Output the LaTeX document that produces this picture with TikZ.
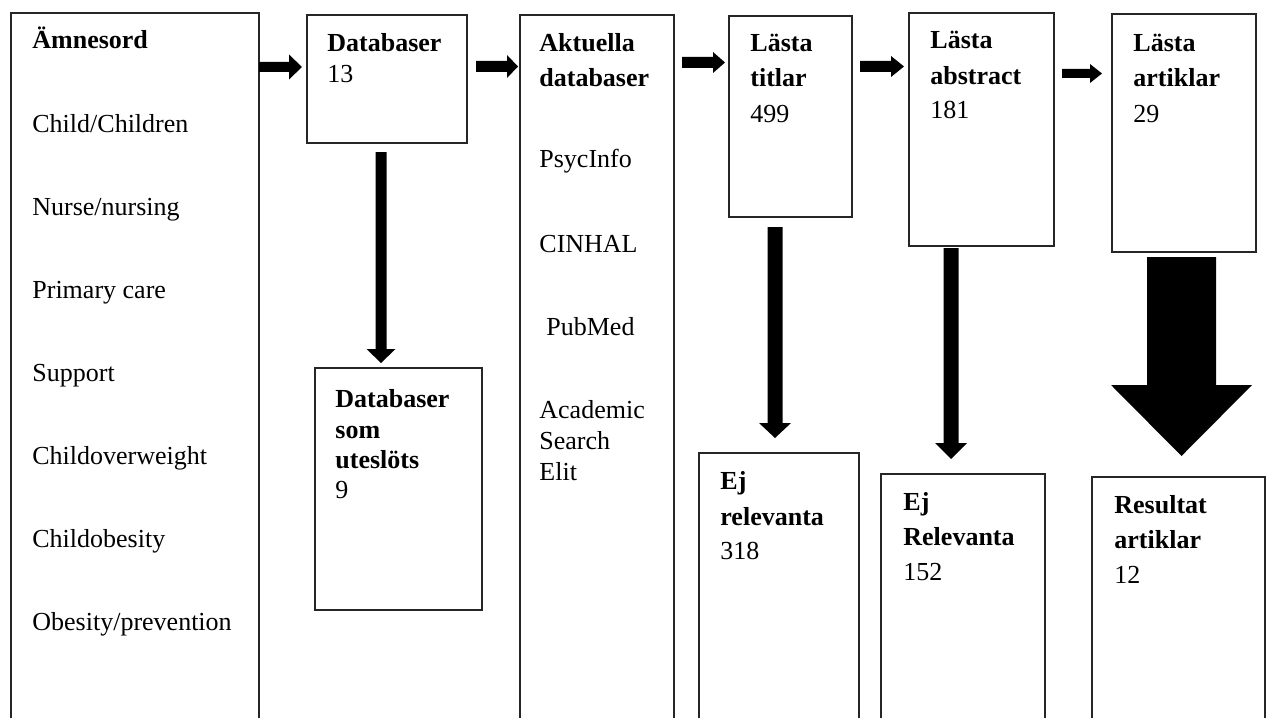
\documentclass[tikz,border=0pt]{standalone}
\usepackage{fontspec}
\setmainfont{Liberation Serif}
\usetikzlibrary{calc}
% block arrow pointing right: start coord, end coord, shaft half, head half, head length (px)
\newcommand{\blockR}[5]{\fill let \p1=(#1),\p2=(#2) in
  (\x1,\y1-#3*0.5pt) -- (\x2-#5*0.5pt,\y1-#3*0.5pt) -- (\x2-#5*0.5pt,\y1-#4*0.5pt) --
  (\x2,\y1) -- (\x2-#5*0.5pt,\y1+#4*0.5pt) -- (\x2-#5*0.5pt,\y1+#3*0.5pt) -- (\x1,\y1+#3*0.5pt) -- cycle;}
% block arrow pointing down
\newcommand{\blockD}[5]{\fill let \p1=(#1),\p2=(#2) in
  (\x1-#3*0.5pt,\y1) -- (\x1-#3*0.5pt,\y2+#5*0.5pt) -- (\x1-#4*0.5pt,\y2+#5*0.5pt) --
  (\x1,\y2) -- (\x1+#4*0.5pt,\y2+#5*0.5pt) -- (\x1+#3*0.5pt,\y2+#5*0.5pt) -- (\x1+#3*0.5pt,\y1) -- cycle;}
\begin{document}
\begin{tikzpicture}[x=0.5pt,y=-0.5pt,
  box/.style={draw=black!85,line width=0.6pt,inner sep=0pt,outer sep=0pt,anchor=north west},
  txt/.style={inner sep=0pt,anchor=base west,font=\fontsize{13}{15}\selectfont},
  btxt/.style={inner sep=0pt,anchor=base west,font=\fontsize{13}{15}\selectfont\bfseries}]
\useasboundingbox (0,0) rectangle (1277,717);
\clip (0,0) rectangle (1277,717);

% boxes
\node[box,minimum width=124pt,minimum height=358.5pt] (amne) at (11,13) {};
\node[box,minimum width=80pt,minimum height=64pt] (db) at (307,15) {};
\node[box,minimum width=77pt,minimum height=357.5pt] (akt) at (520,15) {};
\node[box,minimum width=61.5pt,minimum height=100.5pt] (titlar) at (729,16) {};
\node[box,minimum width=72.5pt,minimum height=116.5pt] (abstr) at (909,13) {};
\node[box,minimum width=72pt,minimum height=119pt] (artik) at (1112,14) {};
\node[box,minimum width=83.5pt,minimum height=121pt] (utes) at (315,368) {};
\node[box,minimum width=80pt,minimum height=138.5pt] (ejr1) at (699,453) {};
\node[box,minimum width=82pt,minimum height=128pt] (ejr2) at (881,474) {};
\node[box,minimum width=86.5pt,minimum height=126.5pt] (res) at (1092,477) {};

% texts
\node[btxt] (t-amne) at (32,49) {Ämnesord};
\node[txt] (t-a1) at (32,132) {Child/Children};
\node[txt] (t-a2) at (32,215) {Nurse/nursing};
\node[txt] (t-a3) at (32,298) {Primary care};
\node[txt] (t-a4) at (32,381) {Support};
\node[txt] (t-a5) at (32,464) {Childoverweight};
\node[txt] (t-a6) at (32,547) {Childobesity};
\node[txt] (t-a7) at (32,630) {Obesity/prevention};

\node[btxt] (t-db) at (327,52) {Databaser};
\node[txt] (t-db2) at (327,83) {13};

\node[btxt] (t-akt1) at (539,52) {Aktuella};
\node[btxt] (t-akt2) at (539,87) {databaser};
\node[txt] (t-k1) at (539,167) {PsycInfo};
\node[txt] (t-k2) at (539,252) {CINHAL};
\node[txt] (t-k3) at (546,335) {PubMed};
\node[txt] (t-k4) at (539,418) {Academic};
\node[txt] (t-k5) at (539,449) {Search};
\node[txt] (t-k6) at (539,480) {Elit};

\node[btxt] (t-ti1) at (750,52) {Lästa};
\node[btxt] (t-ti2) at (750,87) {titlar};
\node[txt] (t-ti3) at (750,122) {499};

\node[btxt] (t-ab1) at (930,49) {Lästa};
\node[btxt] (t-ab2) at (930,84) {abstract};
\node[txt] (t-ab3) at (930,119) {181};

\node[btxt] (t-ar1) at (1133,52) {Lästa};
\node[btxt] (t-ar2) at (1133,87) {artiklar};
\node[txt] (t-ar3) at (1133,122) {29};

\node[btxt] (t-ut1) at (335,407) {Databaser};
\node[btxt] (t-ut2) at (335,438) {som};
\node[btxt] (t-ut3) at (335,468) {uteslöts};
\node[txt] (t-ut4) at (335,498) {9};

\node[btxt] (t-e1a) at (720,489) {Ej};
\node[btxt] (t-e1b) at (720,525) {relevanta};
\node[txt] (t-e1c) at (720,559) {318};

\node[btxt] (t-e2a) at (903,510) {Ej};
\node[btxt] (t-e2b) at (903,545) {Relevanta};
\node[txt] (t-e2c) at (903,580) {152};

\node[btxt] (t-r1) at (1114,513) {Resultat};
\node[btxt] (t-r2) at (1114,548) {artiklar};
\node[txt] (t-r3) at (1114,583) {12};

% arrow end points
\coordinate (h1a) at (259,67);   \coordinate (h1b) at (302,67);
\coordinate (h2a) at (476,66.5); \coordinate (h2b) at (518,66.5);
\coordinate (h3a) at (682,62.5); \coordinate (h3b) at (725,62.5);
\coordinate (h4a) at (860,66.5); \coordinate (h4b) at (904,66.5);
\coordinate (h5a) at (1062,73.5); \coordinate (h5b) at (1102,73.5);
\coordinate (v1a) at (381,152);  \coordinate (v1b) at (381,363);
\coordinate (v2a) at (775,227);  \coordinate (v2b) at (775,438);
\coordinate (v3a) at (951,248);  \coordinate (v3b) at (951,459);
\coordinate (v4a) at (1181.5,257); \coordinate (v4b) at (1181.5,456);

\blockR{h1a}{h1b}{5}{12.5}{13}
\blockR{h2a}{h2b}{5.5}{11.5}{11}
\blockR{h3a}{h3b}{5.5}{10.5}{12}
\blockR{h4a}{h4b}{5.5}{10.5}{13}
\blockR{h5a}{h5b}{4.5}{9.5}{12}
\blockD{v1a}{v1b}{5.5}{14.5}{14}
\blockD{v2a}{v2b}{7.5}{16}{15}
\blockD{v3a}{v3b}{7.5}{16}{16}
\blockD{v4a}{v4b}{34.5}{70.5}{71}
\end{tikzpicture}
\end{document}
